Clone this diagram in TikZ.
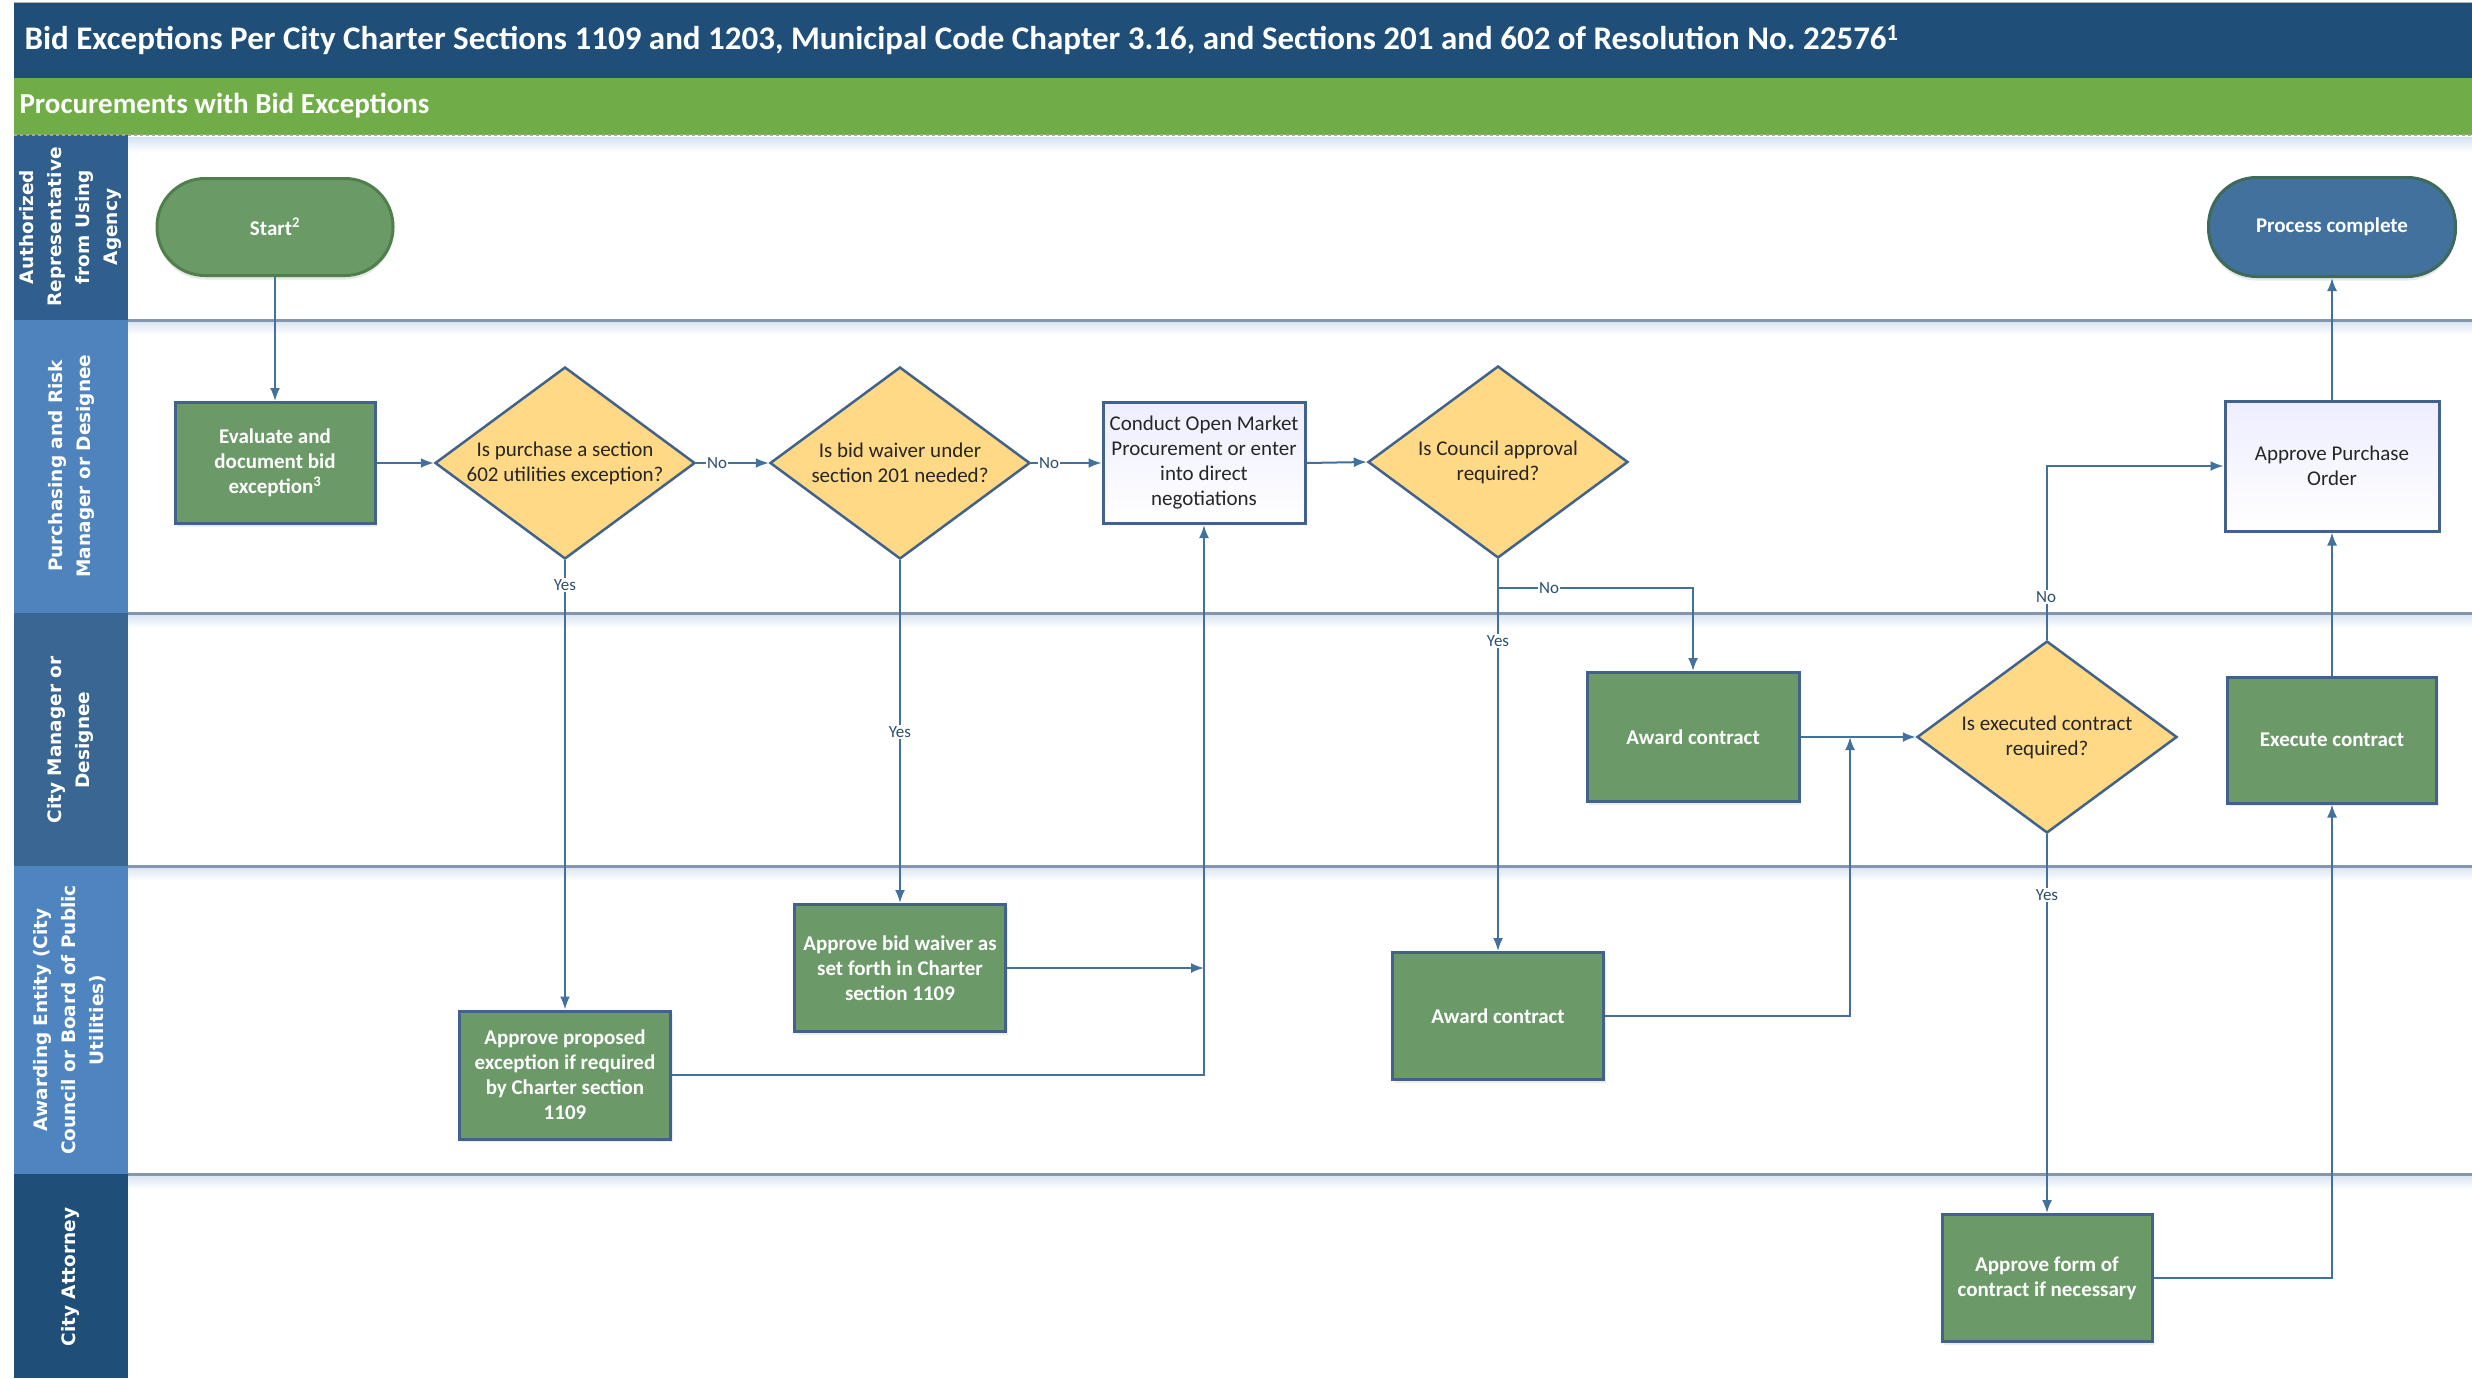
\documentclass[tikz,border=0pt]{standalone}
\usepackage{fontspec}
\setmainfont{Carlito}
\newfontfamily\lanefont{DejaVu Sans}
\usetikzlibrary{shapes.geometric,arrows.meta,shadows}
\definecolor{navy}{HTML}{1F4E79}
\definecolor{grnbar}{HTML}{70AD47}
\definecolor{boxgreen}{HTML}{6B9A68}
\definecolor{edgeblue}{HTML}{41628A}
\definecolor{connc}{HTML}{41719C}
\definecolor{dia}{HTML}{FFD985}
\definecolor{laneA}{HTML}{305E8D}
\definecolor{laneB}{HTML}{4F83BD}
\definecolor{laneC}{HTML}{3A6693}
\definecolor{laneD}{HTML}{4E85C1}
\definecolor{laneE}{HTML}{1F4E79}
\definecolor{sepline}{HTML}{8496AE}
\definecolor{sepshadow}{HTML}{D6E2F0}
\definecolor{startgreen}{HTML}{6A9A65}
\definecolor{startedge}{HTML}{4F7F4A}
\definecolor{pcblue}{HTML}{41719C}
\definecolor{pcedge}{HTML}{3E6A5A}
\tikzset{
  greenbox/.style={draw=edgeblue, line width=3pt, fill=boxgreen, text=white,
    font=\fontsize{21}{25}\selectfont\bfseries, align=center, inner sep=0pt,
    drop shadow={shadow xshift=2pt, shadow yshift=-3pt, opacity=0.15}},
  whitebox/.style={draw=edgeblue, line width=3pt, top color=blue!7, bottom color=white,
    text=black!85, font=\fontsize{21}{25}\selectfont, align=center, inner sep=0pt},
  decision/.style={diamond, draw=edgeblue, line width=2.5pt, fill=dia, text=black!85,
    font=\fontsize{21}{25}\selectfont, align=center, inner sep=0pt, shape aspect=1.35,
    minimum width=260pt, minimum height=192pt},
  terminal/.style={rectangle, rounded corners=48pt, line width=3pt, text=white,
    font=\fontsize{21}{25}\selectfont\bfseries, align=center, inner sep=0pt,
    minimum width=236pt, minimum height=97pt,
    drop shadow={shadow xshift=0pt, shadow yshift=-4pt, opacity=0.18}},
  flow/.style={draw=connc, line width=2pt, -{Latex[length=13pt,width=10pt]}},
  lbl/.style={fill=white, inner sep=1.5pt, text=connc!70!black, font=\fontsize{17}{17}\selectfont},
  lanetext/.style={rotate=90, text=white, align=center,
    font=\lanefont\bfseries\fontsize{18.5}{28}\selectfont},
}
\begin{document}
\begin{tikzpicture}[x=1pt, y=-1pt]
\useasboundingbox (0,0) rectangle (2472,1378);
\fill[white] (0,0) rectangle (2472,1378);
% title and phase bars
\fill[navy] (14,3) rectangle (2472,78);
\draw[gray!60, line width=1pt] (14,3) -- (2472,3);
\fill[grnbar] (14,78) rectangle (2472,135);
\node[anchor=west, text=white, font=\fontsize{33}{33}\selectfont\bfseries] (title) at (21,40)
  {Bid Exceptions Per City Charter Sections 1109 and 1203, Municipal Code Chapter 3.16, and Sections 201 and 602 of Resolution No.\ 22576\textsuperscript{1}};
\node[anchor=west, text=white, font=\fontsize{29}{29}\selectfont\bfseries] (phase) at (16,106)
  {Procurements with Bid Exceptions};
% lane headers
\fill[laneA] (14,135) rectangle (128,320);
\fill[laneB] (14,320) rectangle (128,613);
\fill[laneC] (14,613) rectangle (128,866);
\fill[laneD] (14,866) rectangle (128,1174);
\fill[laneE] (14,1174) rectangle (128,1378);
% separators
\shade[top color=sepshadow, bottom color=white] (128,137) rectangle (2472,152);
\draw[gray!70, dashed, line width=1.5pt] (14,135) -- (2472,135);
\foreach \yy in {320,613,866,1174}{
  \shade[top color=sepshadow, bottom color=white] (128,\yy) rectangle (2472,\yy+15);
  \draw[sepline, line width=3pt] (128,\yy) -- (2472,\yy);
}
\node[lanetext] (lane1) at (70,227) {Authorized\\Representative\\from Using\\Agency};
\node[lanetext] (lane2) at (71,466) {Purchasing and Risk\\Manager or Designee};
\node[lanetext] (lane3) at (70,740) {City Manager or\\Designee};
\node[lanetext] (lane4) at (70,1020) {Awarding Entity (City\\Council or Board of Public\\Utilities)};
\node[lanetext] (lane5) at (70,1277) {City Attorney};
% nodes
\node[terminal, fill=startgreen, draw=startedge] (start) at (275,227) {Start\textsuperscript{2}};
\node[terminal, fill=pcblue, draw=pcedge, minimum width=247pt, minimum height=99pt] (pc) at (2332,227) {Process complete};
\node[greenbox, minimum width=200pt, minimum height=121pt] (eval) at (275,463) {Evaluate and\\document bid\\exception\textsuperscript{3}};
\node[decision] (d1) at (565,463) {Is purchase a section\\602 utilities exception?};
\node[decision] (d2) at (900,463) {Is bid waiver under\\section 201 needed?};
\node[whitebox, minimum width=202pt, minimum height=121pt] (conduct) at (1204,463) {Conduct Open Market\\Procurement or enter\\into direct\\negotiations};
\node[decision] (d3) at (1498,462) {Is Council approval\\required?};
\node[whitebox, minimum width=214pt, minimum height=130pt] (po) at (2332,466) {Approve Purchase\\Order};
\node[greenbox, minimum width=212pt, minimum height=129pt] (award1) at (1693,737) {Award contract};
\node[decision] (d4) at (2047,737) {Is executed contract\\required?};
\node[greenbox, minimum width=209pt, minimum height=126pt] (exec) at (2332,740) {Execute contract};
\node[greenbox, minimum width=211pt, minimum height=127pt] (bw) at (900,968) {Approve bid waiver as\\set forth in Charter\\section 1109};
\node[greenbox, minimum width=211pt, minimum height=128pt] (ap1) at (565,1075) {Approve proposed\\exception if required\\by Charter section\\1109};
\node[greenbox, minimum width=211pt, minimum height=127pt] (award2) at (1498,1016) {Award contract};
\node[greenbox, minimum width=210pt, minimum height=127pt] (apform) at (2047,1278) {Approve form of\\contract if necessary};
% helper coordinates
\coordinate (j1) at (1204,968);
\coordinate (nobr) at (1498,588);
\coordinate (j2) at (1850,737);
% connectors
\draw[flow] (start.south) -- (eval.north);
\draw[flow] (eval.east) -- (d1.west);
\draw[flow] (d1.east) -- (d2.west);
\draw[flow] (d2.east) -- (conduct.west);
\draw[flow] (conduct.east) -- (d3.west);
\draw[flow] (d1.south) -- (ap1.north);
\draw[flow] (d2.south) -- (bw.north);
\draw[flow] (bw.east) -- (j1);
\draw[flow] (ap1.east) -| (conduct.south);
\draw[flow] (d3.south) -- (award2.north);
\draw[flow] (nobr) -| (award1.north);
\draw[flow] (award1.east) -- (d4.west);
\draw[flow] (award2.east) -| (j2);
\draw[flow] (d4.north) |- (po.west);
\draw[flow] (d4.south) -- (apform.north);
\draw[flow] (apform.east) -| (exec.south);
\draw[flow] (exec.north) -- (po.south);
\draw[flow] (po.north) -- (pc.south);
% connector labels
\node[lbl] (no1) at (717,463) {No};
\node[lbl] (no2) at (1049,463) {No};
\node[lbl] (no3) at (1549,588) {No};
\node[lbl] (no4) at (2046,597) {No};
\node[lbl] (yes1) at (565,585) {Yes};
\node[lbl] (yes2) at (900,732) {Yes};
\node[lbl] (yes3) at (1498,641) {Yes};
\node[lbl] (yes4) at (2047,895) {Yes};
\end{tikzpicture}
\end{document}
